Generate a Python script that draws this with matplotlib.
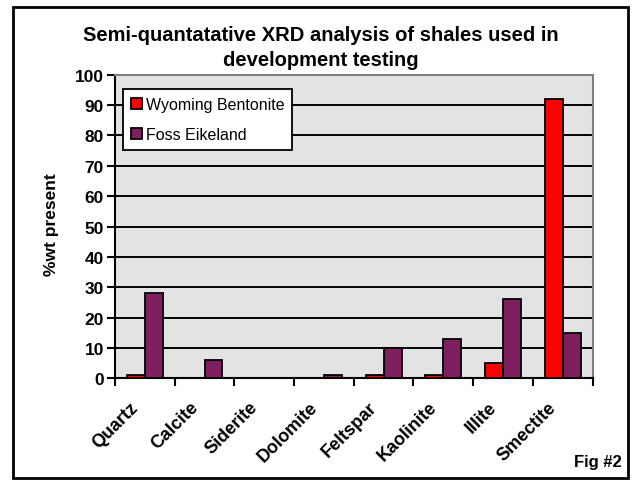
import matplotlib
matplotlib.use("Agg")
import matplotlib.pyplot as plt
import matplotlib.transforms as mtransforms
import numpy as np

categories = ["Quartz", "Calcite", "Siderite", "Dolomite", "Feltspar", "Kaolinite", "Illite", "Smectite"]
wyoming = [1, 0, 0, 0, 1, 1, 5, 92]
foss = [28, 6, 0, 1, 10, 13, 26, 15]
series_names = ["Wyoming Bentonite", "Foss Eikeland"]
yticks = list(range(0, 101, 10))

plt.rcParams['font.family'] = ['Liberation Sans', 'DejaVu Sans']

W, H = 636, 481
fig = plt.figure(figsize=(W / 100, H / 100), dpi=100)
ax = fig.add_axes([115 / W, 1 - 379.3 / H, (592.5 - 115) / W, (379.3 - 75.7) / H])
ax.set_facecolor("#E3E3E3")

x = np.arange(len(categories))
bw = 0.3
ax.bar(x - bw / 2, wyoming, bw, color="#FF0000", edgecolor="black", linewidth=1.3,
       label=series_names[0], zorder=3)
ax.bar(x + bw / 2, foss, bw, color="#7F1F5F", edgecolor="black", linewidth=1.3,
       label=series_names[1], zorder=3)

ax.set_xlim(-0.5, len(categories) - 0.5)
ax.set_ylim(0, 100)
ax.set_yticks(yticks)
ax.set_yticklabels([str(v) for v in yticks], fontsize=12.5, fontweight="bold")
for v in yticks[1:-1]:
    ax.axhline(v, color="black", linewidth=1.4, zorder=1)

ax.set_xticks(np.arange(len(categories) + 1) - 0.5)
ax.set_xticklabels([])
ax.set_xticks(x, minor=True)
ax.set_xticklabels(categories, minor=True, rotation=45, ha="right", va="top",
                   rotation_mode="anchor", fontsize=13, fontweight="bold")
ax.tick_params(axis="x", which="minor", length=0, pad=8)
ax.tick_params(axis="x", which="major", length=6, width=1.5, direction="out")
ax.tick_params(axis="y", length=6, width=1.5, direction="out", pad=2)
shift = mtransforms.ScaledTranslation(-15 / 100, -9 / 100, fig.dpi_scale_trans)
for lab in ax.get_xticklabels(minor=True):
    lab.set_transform(lab.get_transform() + shift)

for s in ["left", "bottom"]:
    ax.spines[s].set_color("black")
    ax.spines[s].set_linewidth(1.5)
for s in ["top", "right"]:
    ax.spines[s].set_color("#808080")
    ax.spines[s].set_linewidth(1.5)

ax.set_ylabel("%wt present", fontsize=12.5, fontweight="bold")
ax.yaxis.label.set_va("center")
ax.yaxis.set_label_coords((52 - 115) / 477.5, 0.51)

leg = ax.legend(loc="upper left", bbox_to_anchor=(0.016, 0.953), fontsize=11.5,
                frameon=True, fancybox=False, framealpha=1, handlelength=0.7, handleheight=0.7,
                borderpad=0.5, labelspacing=0.95, handletextpad=0.25, borderaxespad=0)
leg.get_frame().set_edgecolor("black")
leg.get_frame().set_linewidth(1.3)
leg.get_frame().set_facecolor("white")
leg.set_zorder(10)
for h in leg.legend_handles:
    h.set_linewidth(1.3)

fig.text(0.5045, 1 - 41 / H, "Semi-quantatative XRD analysis of shales used in",
         ha="center", va="baseline", fontsize=14.5, fontweight="bold")
fig.text(0.5045, 1 - 66 / H, "development testing",
         ha="center", va="baseline", fontsize=14.5, fontweight="bold")
fig.text(622 / W, 1 - 463 / H, "Fig #2", ha="right", va="center", fontsize=12, fontweight="bold")

border = plt.Rectangle((13 / W, 1 - 479 / H), (628 - 13) / W, (479 - 8) / H,
                       transform=fig.transFigure, fill=False, edgecolor="black", linewidth=2)
fig.patches.append(border)

fig.savefig("out.png", dpi=100)
